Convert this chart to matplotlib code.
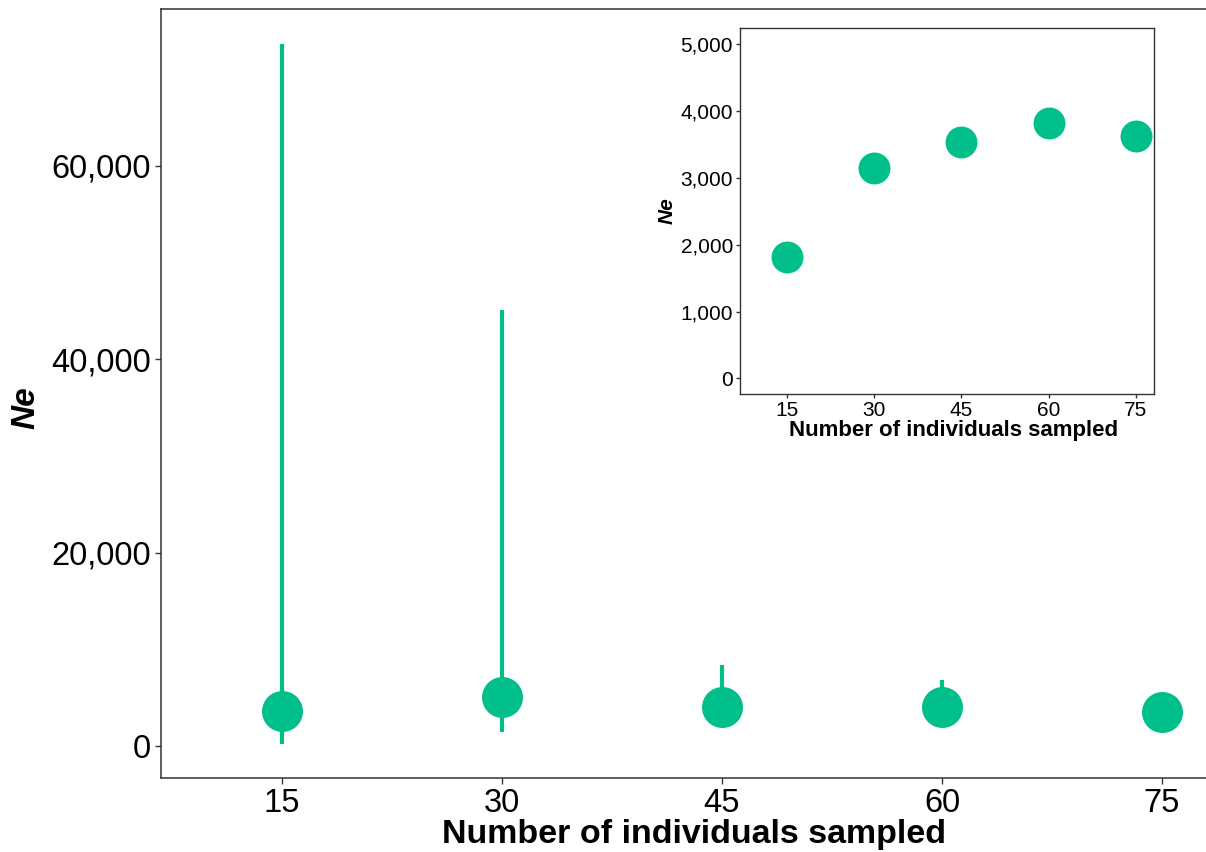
import matplotlib
matplotlib.use("Agg")
import matplotlib.pyplot as plt
from matplotlib.ticker import FuncFormatter

plt.rcParams['font.family'] = ['Liberation Sans', 'DejaVu Sans']

# Main panel data
sample_sizes = [15, 30, 45, 60, 75]
ne_main = [3650, 5040, 4000, 4070, 3550]
ci_lower = [170, 1480, 2600, 2600, 2300]
ci_upper = [72620, 45100, 8380, 6830, 5200]

# Inset data
ne_inset = [1811, 3144, 3533, 3817, 3632]

main_ticks_y = [0, 20000, 40000, 60000]
inset_ticks_y = [0, 1000, 2000, 3000, 4000, 5000]

color = '#00BF8B'
spine_col = '#333333'
fmt = FuncFormatter(lambda v, p: f"{int(v):,}")

fig = plt.figure(figsize=(12.06, 8.52), dpi=100)

# ---- main axes
ax = fig.add_axes([161/1206, (852-778)/852, (1206-161)/1206, (778-9)/852])
for xi, lo, hi in zip(sample_sizes, ci_lower, ci_upper):
    ax.plot([xi, xi], [lo, hi], color=color, lw=3.0, solid_capstyle='butt', zorder=2)
ax.plot(sample_sizes, ne_main, 'o', color=color, ms=29.5, mec='none', zorder=3)
ax.set_xlim(6.75, 78.0)
ax.set_ylim(-3310, 76240)
ax.set_xticks(sample_sizes)
ax.set_yticks(main_ticks_y)
ax.yaxis.set_major_formatter(fmt)
ax.tick_params(axis='both', labelsize=23.5, length=4, width=1, color=spine_col,
               labelcolor='black', pad=3)
ax.spines['right'].set_visible(False)
for s in ['left', 'bottom', 'top']:
    ax.spines[s].set_color(spine_col)
    ax.spines[s].set_linewidth(1.1)
ax.set_xlabel('Number of individuals sampled', fontsize=24.5, fontweight='bold', labelpad=0)
ax.set_ylabel('Ne', fontsize=24, fontweight='bold', fontstyle='italic', labelpad=7)
ax.xaxis.label.set_x(0.51)
ax.yaxis.label.set_y(0.482)

# ---- inset axes
ax2 = fig.add_axes([740/1206, (852-394)/852, (1154-740)/1206, (394-28)/852])
ax2.plot(sample_sizes, ne_inset, 'o', color=color, ms=23, mec='none', zorder=3)
ax2.set_xlim(6.91, 78.15)
ax2.set_ylim(-235, 5244)
ax2.set_xticks(sample_sizes)
ax2.set_yticks(inset_ticks_y)
ax2.yaxis.set_major_formatter(fmt)
ax2.tick_params(axis='both', labelsize=15, length=3, width=1, color=spine_col,
                labelcolor='black', pad=2)
for s in ['left', 'bottom', 'top', 'right']:
    ax2.spines[s].set_color(spine_col)
    ax2.spines[s].set_linewidth(1.0)
ax2.set_xlabel('Number of individuals sampled', fontsize=16, fontweight='bold', labelpad=0)
ax2.set_ylabel('Ne', fontsize=15, fontweight='bold', fontstyle='italic', labelpad=3)
ax2.xaxis.label.set_x(0.515)

fig.savefig('out.png', dpi=100)
